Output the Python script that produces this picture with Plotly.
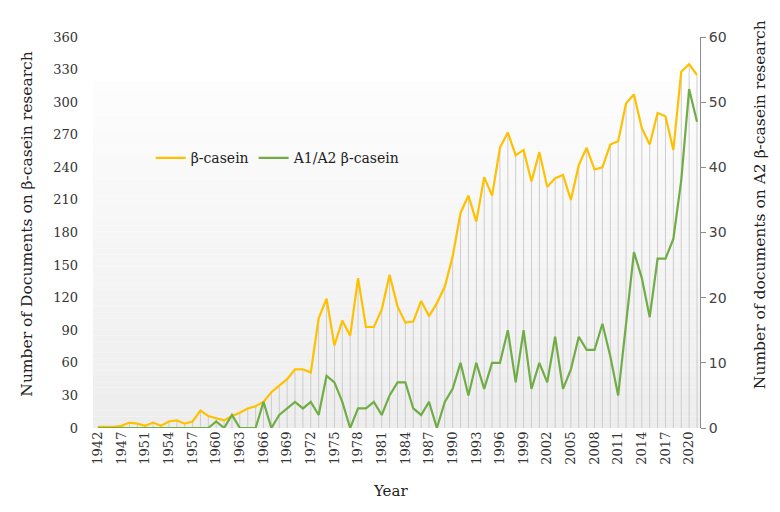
import plotly.graph_objects as go

years = ["1942", "1944", "1946", "1947", "1948", "1949", "1951", "1952", "1953", "1954",
         "1955", "1956", "1957", "1958", "1959", "1960", "1961", "1962", "1963", "1964",
         "1965", "1966", "1967", "1968", "1969", "1970", "1971", "1972", "1973", "1974",
         "1975", "1976", "1977", "1978", "1979", "1980", "1981", "1982", "1983", "1984",
         "1985", "1986", "1987", "1988", "1989", "1990", "1991", "1992", "1993", "1994",
         "1995", "1996", "1997", "1998", "1999", "2000", "2001", "2002", "2003", "2004",
         "2005", "2006", "2007", "2008", "2009", "2010", "2011", "2012", "2013", "2014",
         "2015", "2016", "2017", "2018", "2019", "2020", "2021"]

beta_casein = [1, 1, 1, 2, 5, 4, 2, 5, 2, 6,
               7, 4, 6, 16, 11, 9, 7, 11, 14, 18,
               20, 24, 33, 39, 45, 54, 54, 51, 101, 119,
               76, 99, 85, 138, 93, 93, 109, 141, 112, 97,
               98, 117, 103, 115, 130, 158, 198, 214, 190, 231,
               214, 258, 272, 251, 256, 227, 254, 222, 230, 233,
               210, 242, 258, 238, 240, 261, 264, 299, 307, 276,
               261, 290, 287, 256, 328, 335, 325]

a1a2_casein = [0, 0, 0, 0, 0, 0, 0, 0, 0, 0,
               0, 0, 0, 0, 0, 1, 0, 2, 0, 0,
               0, 4, 0, 2, 3, 4, 3, 4, 2, 8,
               7, 4, 0, 3, 3, 4, 2, 5, 7, 7,
               3, 2, 4, 0, 4, 6, 10, 5, 10, 6,
               10, 10, 15, 7, 15, 6, 10, 7, 14, 6,
               9, 14, 12, 12, 16, 11, 5, 16, 27, 23,
               17, 26, 26, 29, 38, 52, 47]

left_ticks = list(range(0, 361, 30))
right_ticks = list(range(0, 61, 10))
tick_years = years[::3]

SERIF = "DejaVu Serif"
SANS = "DejaVu Sans"

# drop lines from the beta-casein series
drop_x, drop_y = [], []
for c, v in zip(years, beta_casein):
    drop_x += [c, c, None]
    drop_y += [0, v, None]

fig = go.Figure()
fig.add_trace(go.Scatter(x=drop_x, y=drop_y, mode="lines",
                         line=dict(color="#cdcdcd", width=1),
                         showlegend=False, hoverinfo="skip"))
fig.add_trace(go.Scatter(x=years, y=beta_casein, mode="lines", name="β-casein",
                         line=dict(color="#FFC000", width=2.2)))
fig.add_trace(go.Scatter(x=years, y=a1a2_casein, mode="lines", name="A1/A2 β-casein",
                         line=dict(color="#70AD47", width=2.2), yaxis="y2"))

# gradient background (style only)
shapes = []
N = 60
top = 0.887
for k in range(N):
    y0 = top * k / N
    y1 = top * (k + 1) / N
    t = (k + 0.5) / N  # 0 bottom -> 1 top
    g = int(round(237 + (253 - 237) * t))
    shapes.append(dict(type="rect", xref="paper", yref="paper", x0=0, x1=1,
                       y0=y0, y1=y1, fillcolor=f"rgb({g},{g},{g})",
                       line=dict(width=0), layer="below"))

fig.update_layout(
    width=780, height=512,
    margin=dict(l=93, r=80, t=37, b=84),
    paper_bgcolor="white", plot_bgcolor="white",
    shapes=shapes,
    showlegend=True,
    legend=dict(orientation="h", x=0.095, y=0.69, xanchor="left", yanchor="middle",
                bgcolor="rgba(0,0,0,0)", font=dict(family=SERIF, size=14, color="#222"),
                itemwidth=30, tracegroupgap=0),
    xaxis=dict(type="category", categoryorder="array", categoryarray=years,
               range=[-0.63, 76.38], tickmode="array", tickvals=tick_years,
               ticktext=tick_years, tickangle=-90, showgrid=False, zeroline=False,
               showline=False, ticks="", automargin=False,
               tickfont=dict(family=SERIF, size=13, color="#333")),
    yaxis=dict(range=[0, 360], tickmode="array", tickvals=left_ticks,
               showgrid=False, zeroline=False, showline=False, ticks="",
               ticklabelstandoff=14, automargin=False,
               tickfont=dict(family=SERIF, size=13, color="#333")),
    yaxis2=dict(range=[0, 60], overlaying="y", side="right", tickmode="array",
                tickvals=right_ticks, showgrid=False, zeroline=False,
                showline=True, linecolor="#8c8c8c", linewidth=1,
                ticks="outside", ticklen=5, tickcolor="#8c8c8c", automargin=False,
                tickfont=dict(family=SANS, size=14, color="#444")),
    annotations=[
        dict(text="Number of Documents on β-casein research", xref="paper", yref="paper",
             x=0, y=0.52, xshift=-66, textangle=-90, showarrow=False,
             font=dict(family=SERIF, size=15.5, color="#222"), xanchor="center", yanchor="middle"),
        dict(text="Number of documents on A2 β-casein research", xref="paper", yref="paper",
             x=1, y=0.57, xshift=60, textangle=-90, showarrow=False,
             font=dict(family=SERIF, size=15.5, color="#222"), xanchor="center", yanchor="middle"),
        dict(text="Year", xref="paper", yref="paper", x=0.49, y=0, yshift=-52,
             showarrow=False, font=dict(family=SERIF, size=15, color="#222"),
             xanchor="center", yanchor="top"),
    ],
)

fig.write_html("out.html",
               config={"displayModeBar": False},
               post_script="document.body.style.margin='0';document.body.style.overflow='hidden';")
